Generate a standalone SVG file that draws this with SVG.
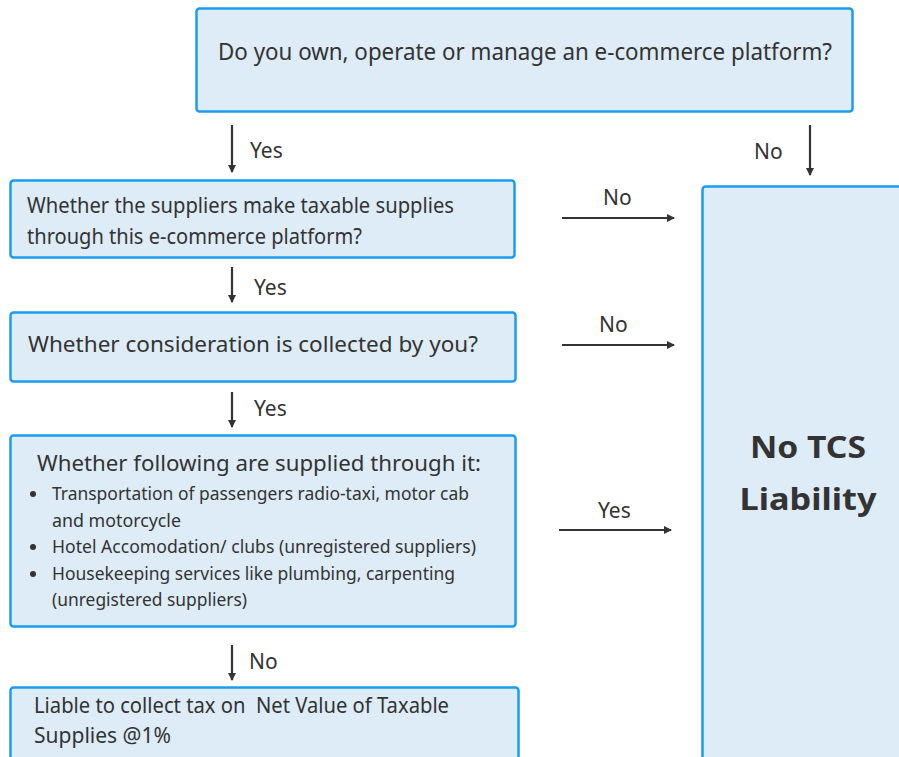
<svg xmlns="http://www.w3.org/2000/svg" width="899" height="757" viewBox="0 0 899 757">
<defs>
<style>
.box{fill:#ddecf7;stroke:#1c9cf0;stroke-width:2.5}
.t{font-family:"Noto Sans","Open Sans",sans-serif;fill:#333333}
.lbl{font-family:"Noto Sans","Open Sans",sans-serif;fill:#333333;font-size:21px}
.ln{stroke:#333333;stroke-width:2.2;fill:none;marker-end:url(#ah)}
</style>
<marker id="ah" markerWidth="10" markerHeight="10" refX="7" refY="4.5" orient="auto" markerUnits="userSpaceOnUse">
<path d="M0,0.5 L8,4.5 L0,8.5 Z" fill="#333333"/>
</marker>
</defs>
<rect width="899" height="757" fill="#ffffff"/>
<g id="q1">
<rect class="box" x="196.5" y="8.5" width="656" height="103" rx="3"/>
<text class="t" x="218" y="60" font-size="23" textLength="614" lengthAdjust="spacingAndGlyphs">Do you own, operate or manage an e-commerce platform?</text>
</g>
<g id="q2">
<rect class="box" x="10.5" y="180.5" width="504" height="77" rx="3"/>
<text class="t" x="27" y="213" font-size="21" textLength="427" lengthAdjust="spacingAndGlyphs">Whether the suppliers make taxable supplies</text>
<text class="t" x="27" y="244" font-size="21" textLength="335" lengthAdjust="spacingAndGlyphs">through this e-commerce platform?</text>
</g>
<g id="q3">
<rect class="box" x="10.5" y="312.5" width="505" height="69" rx="3"/>
<text class="t" x="28" y="352" font-size="22" textLength="450" lengthAdjust="spacingAndGlyphs">Whether consideration is collected by you?</text>
</g>
<g id="q4">
<rect class="box" x="10.5" y="435.5" width="505" height="191" rx="3"/>
<text class="t" x="37" y="471" font-size="22" textLength="444" lengthAdjust="spacingAndGlyphs">Whether following are supplied through it:</text>
<circle cx="33" cy="494" r="3" fill="#333333"/>
<circle cx="33" cy="547" r="3" fill="#333333"/>
<circle cx="33" cy="574" r="3" fill="#333333"/>
<text class="t" x="52" y="500" font-size="18" textLength="417" lengthAdjust="spacingAndGlyphs">Transportation of passengers radio-taxi, motor cab</text>
<text class="t" x="52" y="527" font-size="18" textLength="129" lengthAdjust="spacingAndGlyphs">and motorcycle</text>
<text class="t" x="52" y="553" font-size="18" textLength="424" lengthAdjust="spacingAndGlyphs">Hotel Accomodation/ clubs (unregistered suppliers)</text>
<text class="t" x="52" y="580" font-size="18" textLength="403" lengthAdjust="spacingAndGlyphs">Housekeeping services like plumbing, carpenting</text>
<text class="t" x="52" y="606" font-size="18" textLength="195" lengthAdjust="spacingAndGlyphs">(unregistered suppliers)</text>
</g>
<g id="r1">
<rect class="box" x="10.5" y="687.5" width="508" height="80" rx="3"/>
<text class="t" x="34" y="713" font-size="21" textLength="415" lengthAdjust="spacingAndGlyphs" xml:space="preserve">Liable to collect tax on  Net Value of Taxable</text>
<text class="t" x="34" y="743" font-size="21" textLength="137" lengthAdjust="spacingAndGlyphs">Supplies @1%</text>
</g>
<g id="r2">
<rect class="box" x="702.5" y="186.5" width="210" height="580" rx="3"/>
<text class="t" x="808" y="458" font-size="31" font-weight="bold" text-anchor="middle" textLength="116" lengthAdjust="spacingAndGlyphs">No TCS</text>
<text class="t" x="808" y="510" font-size="31" font-weight="bold" text-anchor="middle" textLength="137" lengthAdjust="spacingAndGlyphs">Liability</text>
</g>
<g id="connectors">
<line class="ln" x1="232" y1="125" x2="232" y2="172"/>
<text class="lbl" x="250" y="158">Yes</text>
<line class="ln" x1="810" y1="125" x2="810" y2="175"/>
<text class="lbl" x="754" y="159">No</text>
<line class="ln" x1="562" y1="218" x2="674" y2="218"/>
<text class="lbl" x="603" y="205">No</text>
<line class="ln" x1="232" y1="267" x2="232" y2="302"/>
<text class="lbl" x="254" y="295">Yes</text>
<line class="ln" x1="562" y1="345" x2="674" y2="345"/>
<text class="lbl" x="599" y="332">No</text>
<line class="ln" x1="232" y1="392" x2="232" y2="427"/>
<text class="lbl" x="254" y="416">Yes</text>
<line class="ln" x1="559" y1="530" x2="671" y2="530"/>
<text class="lbl" x="598" y="518">Yes</text>
<line class="ln" x1="232" y1="645" x2="232" y2="680"/>
<text class="lbl" x="249" y="669">No</text>
</g>
</svg>
